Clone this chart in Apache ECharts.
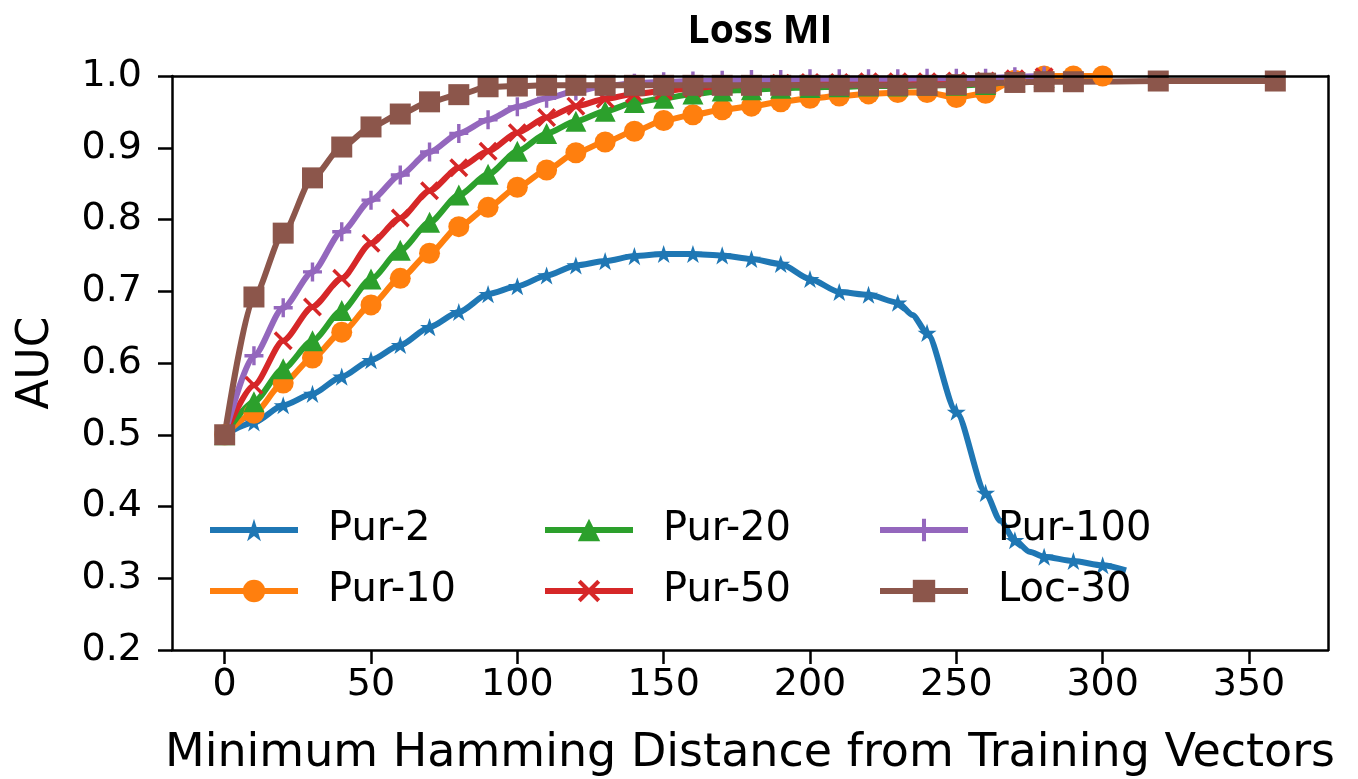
<!DOCTYPE html>
<html>
<head>
<meta charset="utf-8">
<script src="https://cdn.jsdelivr.net/npm/echarts@6/dist/echarts.min.js"></script>
<style>
  html, body { margin: 0; padding: 0; background: #fff; }
  #main { width: 1358px; height: 779px; }
</style>
</head>
<body>
<div id="main"></div>
<script>
// x ticks
const xTicks = [0, 50, 100, 150, 200, 250, 300, 350];

// Pur-2 (some in-between points drawn without marker)
const pur2X = [0, 10, 20, 30, 40, 50, 60, 70, 80, 90, 100, 110, 120, 130, 140, 150, 160, 170, 180, 190, 200, 210, 220, 230,
               235, 240, 250, 260, 265, 270, 275, 280, 290, 300, 308];
const pur2Y = [0.500, 0.517, 0.541, 0.557, 0.581, 0.604, 0.625, 0.650, 0.671, 0.696, 0.707, 0.722, 0.736, 0.742, 0.749, 0.752, 0.752, 0.750, 0.745, 0.738, 0.717, 0.699, 0.695, 0.684,
               0.667, 0.642, 0.532, 0.419, 0.380, 0.353, 0.337, 0.330, 0.324, 0.318, 0.311];
const pur2Plain = [235, 265, 275, 308];

const pur10X = [0, 10, 20, 30, 40, 50, 60, 70, 80, 90, 100, 110, 120, 130, 140, 150, 160, 170, 180, 190, 200, 210, 220, 230, 240, 250, 260, 270, 280, 290, 300];
const pur10Y = [0.500, 0.530, 0.572, 0.607, 0.643, 0.681, 0.718, 0.753, 0.790, 0.817, 0.845, 0.869, 0.893, 0.908, 0.923, 0.938, 0.946, 0.953, 0.958, 0.964, 0.969, 0.972, 0.975, 0.977, 0.977, 0.970, 0.976, 0.994, 1.000, 1.000, 1.000];

const pur20X = [0, 10, 20, 30, 40, 50, 60, 70, 80, 90, 100, 110, 120, 130, 140, 150, 160, 170, 180, 190, 200, 210, 220, 230, 240, 250, 260, 270, 280];
const pur20Y = [0.500, 0.546, 0.592, 0.631, 0.673, 0.717, 0.757, 0.796, 0.834, 0.863, 0.895, 0.920, 0.937, 0.951, 0.963, 0.969, 0.975, 0.979, 0.981, 0.983, 0.984, 0.985, 0.986, 0.986, 0.987, 0.987, 0.988, 0.993, 0.998];

const pur50X = [0, 10, 20, 30, 40, 50, 60, 70, 80, 90, 100, 110, 120, 130, 140, 150, 160, 170, 180, 190, 200, 210, 220, 230, 240, 250, 260, 270, 280];
const pur50Y = [0.500, 0.569, 0.631, 0.678, 0.718, 0.767, 0.802, 0.840, 0.872, 0.895, 0.921, 0.942, 0.958, 0.968, 0.975, 0.979, 0.983, 0.986, 0.988, 0.990, 0.991, 0.991, 0.992, 0.992, 0.992, 0.993, 0.993, 0.996, 0.999];

const pur100X = [0, 10, 20, 30, 40, 50, 60, 70, 80, 90, 100, 110, 120, 130, 140, 150, 160, 170, 180, 190, 200, 210, 220, 230, 240, 250, 260, 270, 280];
const pur100Y = [0.500, 0.610, 0.677, 0.727, 0.783, 0.827, 0.862, 0.894, 0.920, 0.939, 0.957, 0.969, 0.979, 0.986, 0.990, 0.992, 0.993, 0.994, 0.995, 0.995, 0.996, 0.996, 0.996, 0.996, 0.997, 0.997, 0.997, 0.999, 1.000];

const loc30X = [0, 10, 20, 30, 40, 50, 60, 70, 80, 90, 100, 110, 120, 130, 140, 150, 160, 170, 180, 190, 200, 210, 220, 230, 240, 250, 260, 270, 280, 290, 319, 359];
const loc30Y = [0.500, 0.692, 0.781, 0.858, 0.901, 0.929, 0.947, 0.964, 0.974, 0.985, 0.986, 0.987, 0.987, 0.987, 0.987, 0.987, 0.987, 0.987, 0.987, 0.987, 0.987, 0.987, 0.987, 0.987, 0.987, 0.988, 0.990, 0.991, 0.992, 0.992, 0.993, 0.993];

// matplotlib-like markers
const starPath = 'path://M0,-10 L2.245,-3.09 L9.511,-3.09 L3.633,1.18 L5.878,8.09 L0,3.82 L-5.878,8.09 L-3.633,1.18 L-9.511,-3.09 L-2.245,-3.09 Z';
const xPath = 'path://M-5,-3.7 L-3.7,-5 L0,-1.3 L3.7,-5 L5,-3.7 L1.3,0 L5,3.7 L3.7,5 L0,1.3 L-3.7,5 L-5,3.7 L-1.3,0 Z';
const plusPath = 'path://M-0.9,-5 L0.9,-5 L0.9,-0.9 L5,-0.9 L5,0.9 L0.9,0.9 L0.9,5 L-0.9,5 L-0.9,0.9 L-5,0.9 L-5,-0.9 L-0.9,-0.9 Z';

function pts(xs, ys, plain) {
    plain = plain || [];
    return xs.map((x, i) => {
        if (plain.indexOf(x) >= 0) return { value: [x, ys[i]], symbol: 'none' };
        return [x, ys[i]];
    });
}

function line(name, color, symbol, size, data, extra) {
    return Object.assign({
        name: name,
        type: 'line',
        xAxisIndex: 0,
        yAxisIndex: 0,
        data: data,
        symbol: symbol,
        symbolSize: size,
        symbolKeepAspect: true,
        smooth: 0.25,
        smoothMonotone: 'x',
        lineStyle: { color: color, width: 6 },
        itemStyle: { color: color },
        emphasis: { disabled: true }
    }, extra || {});
}

const font = 'DejaVu Sans';
const legendBase = {
    orient: 'vertical',
    top: 510,
    padding: 0,
    itemWidth: 88,
    itemHeight: 28,
    itemGap: 21,
    lineStyle: { width: 6 },
    textStyle: { fontFamily: font, fontSize: 40, color: '#000', lineHeight: 40, padding: [0, 0, 0, 25] }
};

const myChart = echarts.init(document.getElementById('main'));
const option = {
    animation: false,
    backgroundColor: '#fff',
    title: {
        text: 'Loss MI',
        left: 755,
        top: 7,
        textAlign: 'center',
        textStyle: { fontFamily: 'Open Sans', fontWeight: 'bold', fontSize: 39, color: '#000' }
    },
    grid: { left: 172, right: 30, top: 76, bottom: 129, outerBoundsMode: 'none' },
    legend: [
        Object.assign({ left: 207, data: ['Pur-2', 'Pur-10'] }, legendBase),
        Object.assign({ left: 542, data: ['Pur-20', 'Pur-50'] }, legendBase),
        Object.assign({ left: 877, data: ['Pur-100', 'Loc-30'] }, legendBase)
    ],
    xAxis: [{
        type: 'value',
        min: -18,
        max: 377,
        z: 5,
        name: 'Minimum Hamming Distance from Training Vectors',
        nameLocation: 'middle',
        nameGap: 81,
        nameTextStyle: { fontFamily: font, fontSize: 46, color: '#000' },
        axisLine: { onZero: false, lineStyle: { color: '#000', width: 2.5 } },
        axisTick: { show: true, length: 14, customValues: xTicks, lineStyle: { color: '#000', width: 2.5 } },
        axisLabel: { customValues: xTicks, margin: 16, fontFamily: font, fontSize: 38, color: '#000' },
        splitLine: { show: false }
    }, {
        type: 'value',
        position: 'top',
        min: -18,
        max: 377,
        z: 5,
        axisLine: { show: true, onZero: false, lineStyle: { color: '#000', width: 2.5 } },
        axisTick: { show: false },
        axisLabel: { show: false },
        splitLine: { show: false }
    }],
    yAxis: [{
        type: 'value',
        min: 0.2,
        max: 1.0,
        interval: 0.1,
        z: 5,
        name: 'AUC',
        nameLocation: 'middle',
        nameGap: 113,
        nameTextStyle: { fontFamily: font, fontSize: 44, color: '#000' },
        axisLine: { show: true, onZero: false, lineStyle: { color: '#000', width: 2.5 } },
        axisTick: { show: true, length: 14, lineStyle: { color: '#000', width: 2.5 } },
        axisLabel: { margin: 30, fontFamily: font, fontSize: 38, color: '#000', formatter: v => v.toFixed(1) },
        splitLine: { show: false }
    }, {
        type: 'value',
        position: 'right',
        min: 0.2,
        max: 1.0,
        z: 5,
        axisLine: { show: true, onZero: false, lineStyle: { color: '#000', width: 2.5 } },
        axisTick: { show: false },
        axisLabel: { show: false },
        splitLine: { show: false }
    }],
    series: [
        line('Pur-2', '#1f77b4', starPath, 19, pts(pur2X, pur2Y, pur2Plain)),
        line('Pur-10', '#ff7f0e', 'circle', 21, pts(pur10X, pur10Y), { clip: false }),
        line('Pur-20', '#2ca02c', 'triangle', 21, pts(pur20X, pur20Y)),
        line('Pur-50', '#d62728', xPath, 19, pts(pur50X, pur50Y)),
        line('Pur-100', '#9467bd', plusPath, 19, pts(pur100X, pur100Y)),
        line('Loc-30', '#8c564b', 'rect', 21, pts(loc30X, loc30Y))
    ]
};
myChart.setOption(option);
</script>
</body>
</html>
